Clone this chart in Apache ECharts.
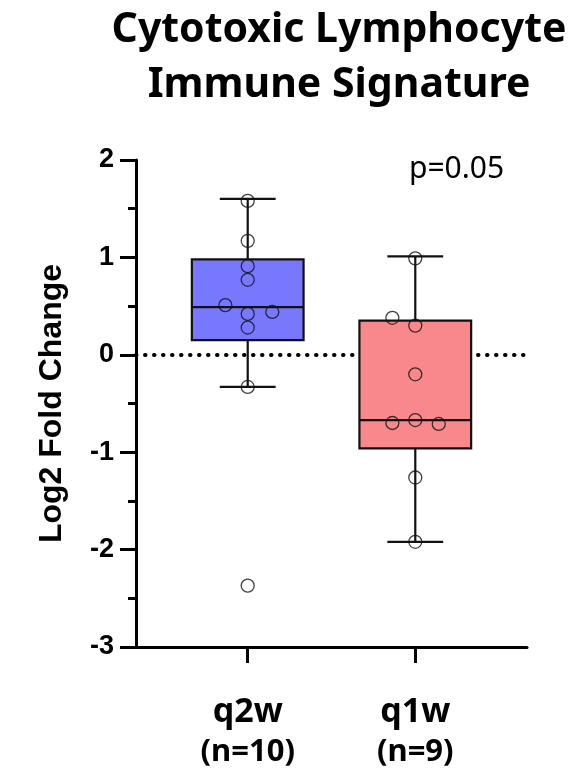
<!DOCTYPE html>
<html>
<head>
<meta charset="utf-8">
<script src="https://cdn.jsdelivr.net/npm/echarts@6/dist/echarts.min.js"></script>
<style>
  html, body { margin: 0; padding: 0; background: #fff; }
  #main { width: 578px; height: 774px; }
</style>
</head>
<body>
<div id="main"></div>
<script>
// slots on the category axis, groups sit at index 2 and 5
var slots = ['s0', 's1', 'q2w', 's3', 's4', 'q1w', 's6', 's7'];
var groups = ['q2w', 'q1w'];
var groupSlot = [2, 5];
var groupN = ['(n=10)', '(n=9)'];

// box stats per group
var boxMin = [-0.33, -1.92];
var boxQ1 = [0.15, -0.96];
var boxMedian = [0.49, -0.67];
var boxQ3 = [0.98, 0.35];
var boxMax = [1.60, 1.01];

// individual points
var q2wValues = [1.58, 1.17, 0.91, 0.77, 0.51, 0.44, 0.42, 0.28, -0.33, -2.37];
var q2wJitter = [0, 0, 0, 0, -0.40, 0.44, 0, 0, 0, 0];
var q1wValues = [0.99, 0.38, 0.30, -0.20, -0.70, -0.67, -0.71, -1.26, -1.92];
var q1wJitter = [0, -0.41, 0, 0, -0.41, 0, 0.42, 0, 0];

var yTicks = [-3, -2, -1, 0, 1, 2];
var boxColors = ['#7878ff', '#f8888c'];

var chart = echarts.init(document.getElementById('main'));

var boxData = groups.map(function (g, i) {
    return [groupSlot[i], boxMin[i], boxQ1[i], boxMedian[i], boxQ3[i], boxMax[i]];
});

var pointData = [];
q2wValues.forEach(function (v, i) { pointData.push([groupSlot[0] + q2wJitter[i], v]); });
q1wValues.forEach(function (v, i) { pointData.push([groupSlot[1] + q1wJitter[i], v]); });

function renderBox(params, api) {
    var x = api.value(0);
    var band = api.size([1, 0])[0];
    var halfBox = band;       // box is two slots wide
    var halfCap = band / 2;   // caps are half the box
    var pMin = api.coord([x, api.value(1)]);
    var pQ1 = api.coord([x, api.value(2)]);
    var pMed = api.coord([x, api.value(3)]);
    var pQ3 = api.coord([x, api.value(4)]);
    var pMax = api.coord([x, api.value(5)]);
    var cx = pMed[0];
    var line = { stroke: '#111', lineWidth: 2.2 };
    return {
        type: 'group',
        children: [
            { type: 'line', shape: { x1: cx, y1: pMax[1], x2: cx, y2: pQ3[1] }, style: line },
            { type: 'line', shape: { x1: cx, y1: pQ1[1], x2: cx, y2: pMin[1] }, style: line },
            { type: 'line', shape: { x1: cx - halfCap, y1: pMax[1], x2: cx + halfCap, y2: pMax[1] }, style: line },
            { type: 'line', shape: { x1: cx - halfCap, y1: pMin[1], x2: cx + halfCap, y2: pMin[1] }, style: line },
            {
                type: 'rect',
                shape: { x: cx - halfBox, y: pQ3[1], width: halfBox * 2, height: pQ1[1] - pQ3[1] },
                style: { fill: boxColors[params.dataIndex], stroke: '#111', lineWidth: 2.2 }
            },
            { type: 'line', shape: { x1: cx - halfBox, y1: pMed[1], x2: cx + halfBox, y2: pMed[1] }, style: line }
        ]
    };
}

var showSlot = function (index) { return groupSlot.indexOf(index) >= 0; };

chart.setOption({
    animation: false,
    title: {
        text: 'Cytotoxic Lymphocyte\nImmune Signature',
        left: 334,
        top: -2,
        textAlign: 'center',
        textStyle: {
            fontFamily: 'Noto Sans',
            fontWeight: 'bold',
            fontSize: 41,
            lineHeight: 55,
            color: '#000'
        }
    },
    graphic: [{
        type: 'text',
        left: 409,
        top: 154,
        style: {
            text: 'p=0.05',
            font: '30px "Noto Sans"',
            fill: '#000'
        }
    }],
    grid: { left: 136, right: 51, top: 160, bottom: 127 },
    xAxis: [{
        type: 'category',
        data: slots,
        boundaryGap: false,
        axisLine: { onZero: false, lineStyle: { color: '#000', width: 3 } },
        axisTick: { interval: function (index) { return showSlot(index); }, length: 16, lineStyle: { color: '#000', width: 3 } },
        axisLabel: {
            interval: function (index) { return showSlot(index); },
            margin: 45,
            formatter: function (value) {
                var i = groups.indexOf(value);
                return i < 0 ? '' : '{a|' + groups[i] + '}\n{b|' + groupN[i] + '}';
            },
            rich: {
                a: { fontFamily: 'Noto Sans', fontWeight: 'bold', fontSize: 34, color: '#000', lineHeight: 40 },
                b: { fontFamily: 'Noto Sans', fontWeight: 'bold', fontSize: 31, color: '#000', lineHeight: 40 }
            }
        },
        splitLine: { show: false }
    }, {
        // hidden linear twin of the slot axis, so jittered points keep their offsets
        type: 'value',
        min: 0,
        max: slots.length - 1,
        show: false
    }],
    yAxis: {
        type: 'value',
        min: yTicks[0],
        max: yTicks[yTicks.length - 1],
        interval: 1,
        name: 'Log2 Fold Change',
        nameLocation: 'middle',
        nameRotate: 90,
        nameGap: 68,
        nameTextStyle: { fontFamily: 'Liberation Sans', fontWeight: 'bold', fontSize: 32, color: '#000' },
        axisLine: { show: true, lineStyle: { color: '#000', width: 3 } },
        axisTick: { show: true, length: 16, lineStyle: { color: '#000', width: 3 } },
        minorTick: { show: true, splitNumber: 2, length: 8, lineStyle: { color: '#000', width: 3 } },
        axisLabel: { fontFamily: 'Liberation Sans', fontWeight: 'bold', fontSize: 27, color: '#000', margin: 22 },
        splitLine: { show: false }
    },
    series: [
        {
            type: 'line',
            data: [],
            silent: true,
            markLine: {
                silent: true,
                z: 1,
                symbol: 'none',
                label: { show: false },
                lineStyle: { color: '#000', width: 4, type: [0.5, 8.5], cap: 'round' },
                data: [{ yAxis: 0 }]
            }
        },
        {
            type: 'custom',
            z: 2,
            renderItem: renderBox,
            encode: { x: 0, y: [1, 2, 3, 4, 5] },
            data: boxData
        },
        {
            type: 'scatter',
            xAxisIndex: 1,
            z: 3,
            symbol: 'circle',
            symbolSize: 13,
            itemStyle: { color: 'rgba(0,0,0,0)', borderColor: '#111', borderWidth: 1.3 },
            data: pointData
        }
    ]
});
</script>
</body>
</html>
